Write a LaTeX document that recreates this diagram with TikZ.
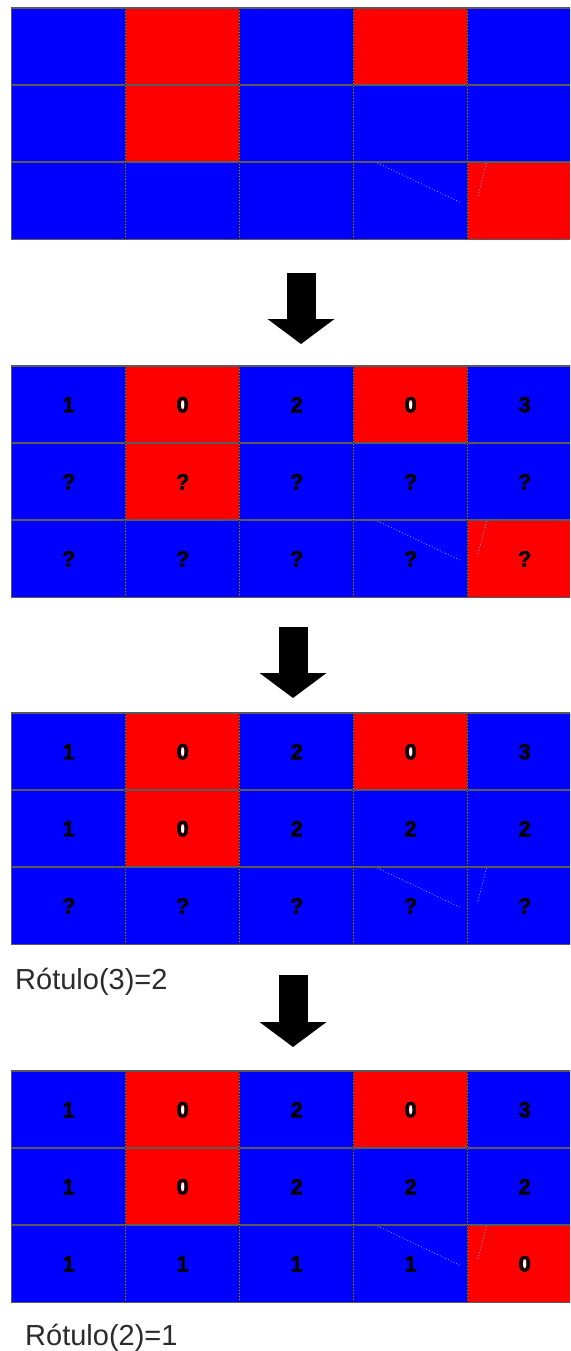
\documentclass[tikz,border=0pt]{standalone}
\usepackage{fontspec}
\setmainfont{Liberation Sans}
\newfontfamily\cellfont[FakeBold=2]{Liberation Sans Bold}
\usetikzlibrary{arrows.meta,calc}
\definecolor{cellblue}{HTML}{0000FF}
\definecolor{cellred}{HTML}{FF0000}
\definecolor{gridgray}{HTML}{5A5A5A}
\definecolor{dotgray}{HTML}{2E2E22}
\definecolor{dotyellow}{HTML}{8E8758}
\definecolor{ink}{HTML}{2B2B2B}
\definecolor{glitchblue}{HTML}{7F9CFF}
\tikzset{
  cell/.style={minimum width=114pt,minimum height=77pt,inner sep=0pt,anchor=north west,font=\fontsize{22}{22}\cellfont},
  cellb/.style={cell,fill=cellblue},
  cellr/.style={cell,fill=cellred},
  digit0/.style={path picture={\fill[white] (path picture bounding box.center) ellipse (1.7pt and 4.4pt);}},
  hline/.style={draw=gridgray,line width=1.3pt},
  vline/.style={draw=dotgray,line width=1.6pt},
  vdots/.style={draw=dotyellow,line width=.7pt,dash pattern=on 1pt off 2pt},
  frame/.style={draw=gridgray,line width=1.3pt},
  glitch/.style={draw=glitchblue,line width=.8pt,dash pattern=on 1pt off 2pt},
  bigarrow/.style={line width=29pt,-{Triangle[width=67pt,length=25pt,line width=0pt]}},
  caption/.style={font=\fontsize{29}{34}\selectfont,text=ink,anchor=base west,inner sep=0pt}
}
% one row of cells: grid, row, top, colour/label list
\newcommand{\cellrow}[4]{%
  \foreach \col/\lab [count=\c] in {#4}
    \node[cell\col,digit\lab/.try] (#1-#2-\c) at ({11.5+114*(\c-1)},#3) {\lab};}

\begin{document}
\begin{tikzpicture}[x=1pt,y=-1pt]
\useasboundingbox (0,0) rectangle (570,1351);
\fill[white] (0,0) rectangle (570,1351);
\clip (0,0) rectangle (570,1351);

% input image
\cellrow{g1}{1}{8}{b/{},r/{},b/{},r/{},b/{}}
\cellrow{g1}{2}{85}{b/{},r/{},b/{},b/{},b/{}}
\cellrow{g1}{3}{162}{b/{},b/{},b/{},b/{},r/{}}

% first row labelled
\cellrow{g2}{1}{366}{b/1,r/0,b/2,r/0,b/3}
\cellrow{g2}{2}{443}{b/?,r/?,b/?,b/?,b/?}
\cellrow{g2}{3}{520}{b/?,b/?,b/?,b/?,r/?}

% second row labelled
\cellrow{g3}{1}{713}{b/1,r/0,b/2,r/0,b/3}
\cellrow{g3}{2}{790}{b/1,r/0,b/2,b/2,b/2}
\cellrow{g3}{3}{867}{b/?,b/?,b/?,b/?,b/?}

% third row labelled
\cellrow{g4}{1}{1071}{b/1,r/0,b/2,r/0,b/3}
\cellrow{g4}{2}{1148}{b/1,r/0,b/2,b/2,b/2}
\cellrow{g4}{3}{1225}{b/1,b/1,b/1,b/1,r/0}

\foreach \g in {g1,g2,g3,g4}{
  \draw[glitch] ($(\g-3-4.north west)+(24,1)$) -- ($(\g-3-4.north west)+(106,40)$);
  \draw[glitch] ($(\g-3-5.north west)+(19,1)$) -- ($(\g-3-5.north west)+(10,36)$);
  \foreach \r in {2,3}
    \draw[hline] (\g-\r-1.north west) -- (\g-\r-5.north east);
  \foreach \c in {2,...,5}{
    \draw[vline] (\g-1-\c.north west) -- (\g-3-\c.south west);
    \draw[vdots] (\g-1-\c.north west) -- (\g-3-\c.south west);
  }
  \draw[frame] (\g-1-1.north west) rectangle (\g-3-5.south east);
}

\coordinate (a1s) at (301,273);
\coordinate (a1e) at (301,344);
\coordinate (a2s) at (293,627);
\coordinate (a2e) at (293,698);
\coordinate (a3s) at (293,975);
\coordinate (a3e) at (293,1047);
\draw[bigarrow] (a1s) -- (a1e);
\draw[bigarrow] (a2s) -- (a2e);
\draw[bigarrow] (a3s) -- (a3e);

\node[caption] (cap3) at (15,989) {Rótulo(3)=2};
\node[caption] (cap2) at (25,1345) {Rótulo(2)=1};
\end{tikzpicture}
\end{document}
